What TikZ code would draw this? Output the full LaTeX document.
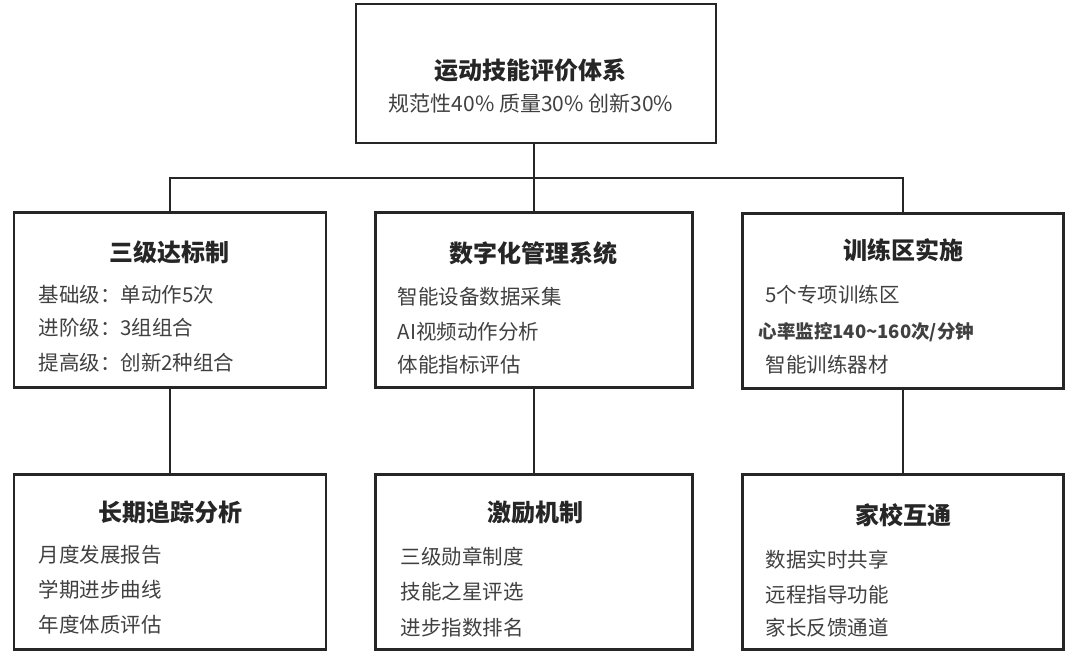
\documentclass[tikz,border=0pt]{standalone}
\usepackage{fontspec}
\newfontfamily\cjk{Noto Sans CJK SC}
\usepackage{tikz}
\usetikzlibrary{positioning, calc}

\tikzset{
  box/.style={draw=black!85, line width=2.8pt, fill=white, inner sep=0pt,
              minimum height=175pt},
  ttl/.style={font=\cjk\bfseries\fontsize{24}{28}\selectfont, text=black!85},
  itm/.style={font=\cjk\fontsize{20.5}{24}\selectfont, text=black!75, anchor=west},
  link/.style={draw=black!85, line width=2.2pt}
}

\begin{document}
\begin{tikzpicture}[x=1pt, y=-1pt]
  \useasboundingbox (0,0) rectangle (1074,654);
  % Top box
  \node[box, minimum width=360pt, minimum height=139pt] (root) at (536,73.5) {};
  \node[ttl] (root-t) at (530,70) {运动技能评价体系};
  \node[font=\cjk\fontsize{21}{24}\selectfont, text=black!75] (root-s) at (531,103)
    {规范性40\% 质量30\% 创新30\%};
  % Middle row
  \node[box, minimum width=312pt] (std)  at (170,300) {};
  \node[box, minimum width=317pt] (dig)  at (534,300) {};
  \node[box, minimum width=321pt] (zone) at (903,301) {};
  \node[ttl] (std-t)  at (169,252) {三级达标制};
  \node[ttl] (dig-t)  at (533,253) {数字化管理系统};
  \node[ttl] (zone-t) at (903,250) {训练区实施};
  \foreach \y/\lbl [count=\i] in {295/基础级：单动作5次, 328/进阶级：3组组合, 363/提高级：创新2种组合}
    \node[itm] (std-\i) at (35,\y) {\lbl};
  \foreach \y/\lbl [count=\i] in {297/智能设备数据采集, 332/AI视频动作分析, 365/体能指标评估}
    \node[itm] (dig-\i) at (394,\y) {\lbl};
  \node[itm] (zone-1) at (762,295) {5个专项训练区};
  \node[itm, font=\cjk\bfseries\fontsize{18.5}{22}\selectfont] (zone-2) at (755,332)
    {心率监控140\textasciitilde160次/分钟};
  \node[itm] (zone-3) at (762,365) {智能训练器材};
  % Bottom row
  \node[box, minimum width=312pt] (track)  at (170,562) {};
  \node[box, minimum width=317pt] (reward) at (534,562) {};
  \node[box, minimum width=321pt] (home)   at (903,562) {};
  \node[ttl] (track-t)  at (170,512) {长期追踪分析};
  \node[ttl] (reward-t) at (535,513) {激励机制};
  \node[ttl] (home-t)   at (903,515) {家校互通};
  \foreach \y/\lbl [count=\i] in {555/月度发展报告, 590/学期进步曲线, 625/年度体质评估}
    \node[itm] (track-\i) at (35,\y) {\lbl};
  \foreach \y/\lbl [count=\i] in {557/三级勋章制度, 592/技能之星评选, 628/进步指数排名}
    \node[itm] (reward-\i) at (397,\y) {\lbl};
  \foreach \y/\lbl [count=\i] in {560/数据实时共享, 595/远程指导功能, 628/家长反馈通道}
    \node[itm] (home-\i) at (762,\y) {\lbl};
  % Connectors
  \coordinate (bar) at (534,178);
  \draw[link] (root.south -| dig.north) -- (dig.north);
  \draw[link] (std.north) -- (std.north |- bar) -- (zone.north |- bar) -- (zone.north);
  \draw[link] (std.south) -- (track.north);
  \draw[link] (dig.south) -- (reward.north);
  \draw[link] (zone.south) -- (home.north);
\end{tikzpicture}
\end{document}
